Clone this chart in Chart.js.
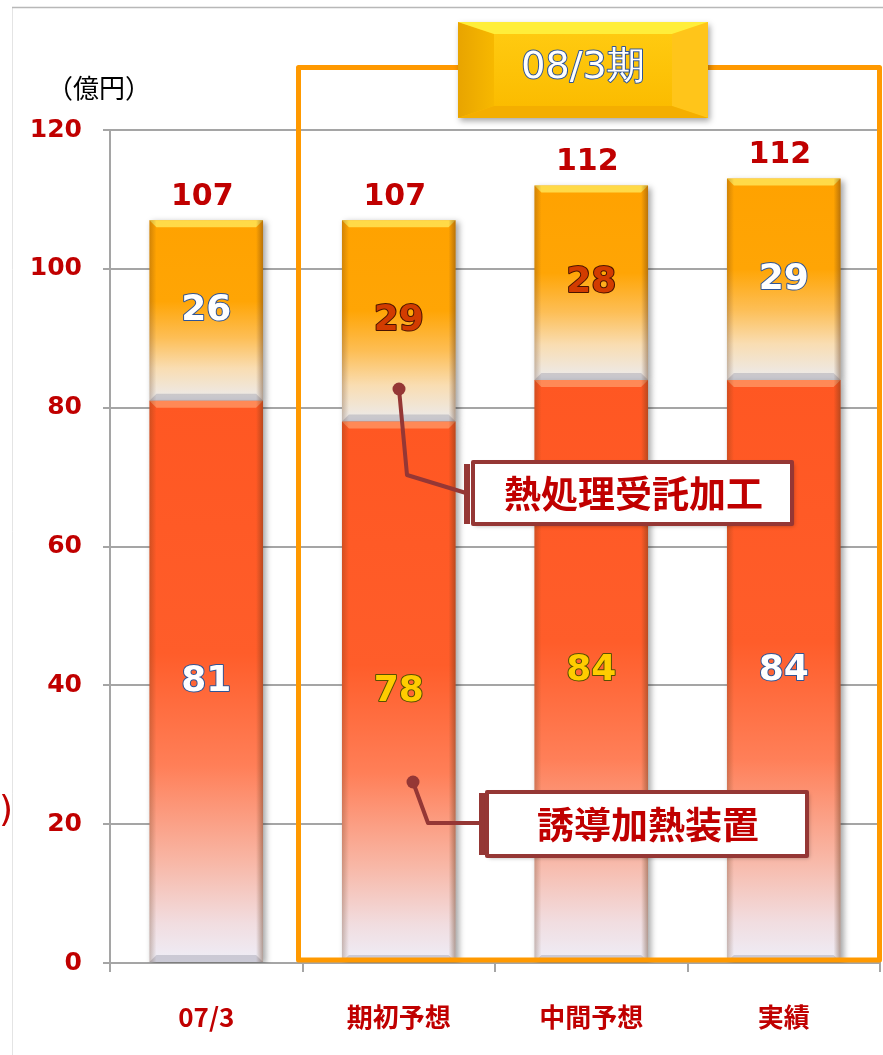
<!DOCTYPE html>
<html>
<head>
<meta charset="utf-8">
<script src="https://cdn.jsdelivr.net/npm/chart.js@4.4.1/dist/chart.umd.min.js"></script>
<style>
  html, body { margin: 0; padding: 0; background: #fff; }
  canvas { display: block; }
</style>
</head>
<body>
<canvas id="myChart" width="883" height="1055"></canvas>
<script>
// data (億円)
const categories = ['07/3', '期初予想', '中間予想', '実績'];
const inductionValues = [81, 78, 84, 84];   // 誘導加熱装置
const treatmentValues = [26, 29, 28, 29];   // 熱処理受託加工
const totalLabels = [107, 107, 112, 112];
const yTicks = [0, 20, 40, 60, 80, 100, 120];

// label colours inside the bars
const treatmentLabelColors = [['#FFFFFF', '#2F5597'], ['#D23C00', '#4A1400'], ['#D23C00', '#4A1400'], ['#FFFFFF', '#2F5597']];
const inductionLabelColors = [['#FFFFFF', '#2F5597'], ['#FFCC00', '#5A5000'], ['#FFCC00', '#5A5000'], ['#FFFFFF', '#2F5597']];

const DARK_RED = '#C00000';
const CALLOUT = '#953735';
const GRID = '#A5A5A5';

function segmentGradient(context, stops) {
    const chart = context.chart;
    const y = chart.scales.y;
    const i = context.dataIndex;
    if (!y || i === undefined) return stops[0][1];
    let lo, hi;
    if (context.datasetIndex === 0) {
        lo = 0; hi = inductionValues[i];
    } else {
        lo = inductionValues[i]; hi = lo + treatmentValues[i];
    }
    const top = y.getPixelForValue(hi);
    const bot = y.getPixelForValue(lo);
    if (!isFinite(top) || !isFinite(bot)) return stops[0][1];
    const g = chart.ctx.createLinearGradient(0, top, 0, bot);
    stops.forEach(([p, c]) => g.addColorStop(p, c));
    return g;
}

const inductionStops = [[0, '#FF5722'], [0.45, '#FF5D2A'], [0.65, '#FF7F58'], [0.82, '#F8B7A6'], [0.93, '#F1DDE0'], [1, '#EEEEF8']];
const treatmentStops = [[0, '#FFA200'], [0.45, '#FFA505'], [0.65, '#FDBE55'], [0.82, '#F9DDB2'], [1, '#EBEBEE']];

function drawBevel(ctx, l, t, w, h, di) {
    const b = 7;
    ctx.save();
    ctx.fillStyle = di === 1 ? 'rgba(255,232,90,0.8)' : 'rgba(255,150,100,0.8)';
    ctx.beginPath();
    ctx.moveTo(l, t); ctx.lineTo(l + w, t); ctx.lineTo(l + w - b, t + b); ctx.lineTo(l + b, t + b);
    ctx.closePath(); ctx.fill();
    ctx.fillStyle = 'rgba(150,150,165,0.4)';
    ctx.beginPath();
    ctx.moveTo(l, t + h); ctx.lineTo(l + w, t + h); ctx.lineTo(l + w - b, t + h - b); ctx.lineTo(l + b, t + h - b);
    ctx.closePath(); ctx.fill();
    let g = ctx.createLinearGradient(l, 0, l + b, 0);
    g.addColorStop(0, 'rgba(90,50,20,0.28)'); g.addColorStop(1, 'rgba(90,50,20,0)');
    ctx.fillStyle = g; ctx.fillRect(l, t, b, h);
    g = ctx.createLinearGradient(l + w - b, 0, l + w, 0);
    g.addColorStop(0, 'rgba(90,50,20,0)'); g.addColorStop(1, 'rgba(90,50,20,0.42)');
    ctx.fillStyle = g; ctx.fillRect(l + w - b, t, b, h);
    ctx.restore();
}

function callout(ctx, text, box, bar, path) {
    ctx.save();
    ctx.strokeStyle = CALLOUT; ctx.fillStyle = CALLOUT;
    ctx.lineWidth = 4; ctx.lineJoin = 'round'; ctx.lineCap = 'round';
    ctx.beginPath();
    ctx.moveTo(path[0][0], path[0][1]);
    path.slice(1).forEach(p => ctx.lineTo(p[0], p[1]));
    ctx.stroke();
    ctx.beginPath(); ctx.arc(path[0][0], path[0][1], 6.5, 0, Math.PI * 2); ctx.fill();
    ctx.fillRect(bar[0], bar[1], bar[2], bar[3]);
    ctx.shadowColor = 'rgba(0,0,0,0.3)'; ctx.shadowBlur = 4; ctx.shadowOffsetX = 2; ctx.shadowOffsetY = 2;
    ctx.fillStyle = '#FFFFFF';
    ctx.fillRect(box[0], box[1], box[2], box[3]);
    ctx.shadowColor = 'transparent';
    ctx.strokeRect(box[0], box[1], box[2], box[3]);
    ctx.fillStyle = DARK_RED;
    ctx.font = 'bold 37px "Noto Sans CJK JP"';
    ctx.textAlign = 'center'; ctx.textBaseline = 'middle';
    ctx.fillText(text, box[0] + box[2] / 2 + 1, box[1] + box[3] / 2 + 1);
    ctx.restore();
}

const decorPlugin = {
    id: 'decor',
    beforeDraw(chart) {
        const ctx = chart.ctx;
        ctx.save();
        ctx.fillStyle = '#FFFFFF';
        ctx.fillRect(0, 0, chart.width, chart.height);
        ctx.strokeStyle = '#E4E4E4'; ctx.lineWidth = 1;
        ctx.beginPath(); ctx.moveTo(12.5, chart.height); ctx.lineTo(12.5, 7.5); ctx.stroke();
        ctx.strokeStyle = '#B8B8B8'; ctx.lineWidth = 1.5;
        ctx.beginPath(); ctx.moveTo(12, 7.5); ctx.lineTo(chart.width, 7.5); ctx.stroke();
        ctx.restore();
    },
    beforeDatasetsDraw(chart) {
        const ctx = chart.ctx;
        ctx.save();
        ctx.shadowColor = 'rgba(0,0,0,0.35)';
        ctx.shadowBlur = 6; ctx.shadowOffsetX = 3; ctx.shadowOffsetY = 2;
    },
    afterDatasetsDraw(chart) {
        const ctx = chart.ctx;
        ctx.restore();
        chart.data.datasets.forEach((ds, di) => {
            chart.getDatasetMeta(di).data.forEach((bar, i) => {
                const p = bar.getProps(['x', 'y', 'base', 'width'], true);
                drawBevel(ctx, p.x - p.width / 2, p.y, p.width, p.base - p.y, di);
                const colors = di === 0 ? inductionLabelColors[i] : treatmentLabelColors[i];
                const value = di === 0 ? inductionValues[i] : treatmentValues[i];
                ctx.save();
                ctx.font = 'bold 36px "DejaVu Sans"';
                ctx.textAlign = 'center'; ctx.textBaseline = 'middle';
                ctx.lineJoin = 'round'; ctx.lineWidth = 2;
                ctx.strokeStyle = colors[1]; ctx.fillStyle = colors[0];
                const cy = (p.y + p.base) / 2;
                ctx.strokeText(String(value), p.x, cy);
                ctx.fillText(String(value), p.x, cy);
                ctx.restore();
            });
        });
        // totals above the bars
        const topMeta = chart.getDatasetMeta(1);
        ctx.save();
        ctx.font = 'bold 30px "DejaVu Sans"';
        ctx.fillStyle = DARK_RED;
        ctx.textAlign = 'center'; ctx.textBaseline = 'middle';
        topMeta.data.forEach((bar, i) => {
            ctx.fillText(String(totalLabels[i]), bar.x - 4, bar.y - 23);
        });
        ctx.restore();
    },
    afterDraw(chart) {
        const ctx = chart.ctx;
        const x = chart.scales.x;
        const area = chart.chartArea;
        // 08/3期 frame
        const left = (x.getPixelForValue(0) + x.getPixelForValue(1)) / 2 - 4;
        ctx.save();
        ctx.strokeStyle = '#FF9900'; ctx.lineWidth = 5; ctx.lineJoin = 'round';
        ctx.strokeRect(left, 67.5, area.right - 0.5 - left, 960 - 67.5);
        ctx.restore();

        // header box
        const hx = 458, hy = 22, hw = 250, hh = 96, bx = 36, by = 12;
        ctx.save();
        ctx.shadowColor = 'rgba(0,0,0,0.35)'; ctx.shadowBlur = 6; ctx.shadowOffsetX = 2; ctx.shadowOffsetY = 3;
        ctx.fillStyle = '#FFC000';
        ctx.fillRect(hx, hy, hw, hh);
        ctx.shadowColor = 'transparent';
        const poly = (pts, fill) => {
            ctx.fillStyle = fill;
            ctx.beginPath(); ctx.moveTo(pts[0][0], pts[0][1]);
            pts.slice(1).forEach(q => ctx.lineTo(q[0], q[1]));
            ctx.closePath(); ctx.fill();
        };
        let lg = ctx.createLinearGradient(hx, 0, hx + bx, 0);
        lg.addColorStop(0, '#E8A400'); lg.addColorStop(1, '#F7B800');
        poly([[hx, hy], [hx + bx, hy + by], [hx + bx, hy + hh - by], [hx, hy + hh]], lg);
        poly([[hx + hw, hy], [hx + hw - bx, hy + by], [hx + hw - bx, hy + hh - by], [hx + hw, hy + hh]], '#FFC51A');
        poly([[hx, hy], [hx + hw, hy], [hx + hw - bx, hy + by], [hx + bx, hy + by]], '#FFEE3A');
        poly([[hx, hy + hh], [hx + hw, hy + hh], [hx + hw - bx, hy + hh - by], [hx + bx, hy + hh - by]], '#F4AE00');
        let cg = ctx.createLinearGradient(0, hy + by, 0, hy + hh - by);
        cg.addColorStop(0, '#FFCA10'); cg.addColorStop(1, '#FBBC00');
        ctx.fillStyle = cg;
        ctx.fillRect(hx + bx, hy + by, hw - 2 * bx, hh - 2 * by);
        ctx.font = '38px "DejaVu Sans"';
        ctx.textAlign = 'center'; ctx.textBaseline = 'middle';
        ctx.lineJoin = 'round'; ctx.lineWidth = 2;
        ctx.strokeStyle = '#2F5597'; ctx.fillStyle = '#FFFFFF';
        ctx.strokeText('08/3期', hx + hw / 2, hy + hh / 2 - 2);
        ctx.fillText('08/3期', hx + hw / 2, hy + hh / 2 - 2);
        ctx.restore();

        // unit label and stray bracket
        ctx.save();
        ctx.font = '26px "Noto Sans CJK JP"';
        ctx.fillStyle = '#000000';
        ctx.textAlign = 'center'; ctx.textBaseline = 'middle';
        ctx.fillText('（億円）', 99, 88);
        ctx.font = '36px "DejaVu Sans"';
        ctx.fillStyle = DARK_RED;
        ctx.textAlign = 'left';
        ctx.fillText(')', -1, 812);
        ctx.restore();

        // callouts
        callout(ctx, '熱処理受託加工', [473, 462, 319, 62], [464, 464, 6, 60], [[399, 389], [407, 475], [466, 493]]);
        callout(ctx, '誘導加熱装置', [487, 792, 320, 64], [479, 793, 6, 62], [[413, 782], [428, 823], [481, 823]]);
    }
};

const ctx = document.getElementById('myChart');
const myChart = new Chart(ctx, {
    type: 'bar',
    data: {
        labels: categories,
        datasets: [
            {
                label: '誘導加熱装置',
                data: inductionValues,
                backgroundColor: (c) => segmentGradient(c, inductionStops),
                borderWidth: 0
            },
            {
                label: '熱処理受託加工',
                data: treatmentValues,
                backgroundColor: (c) => segmentGradient(c, treatmentStops),
                borderWidth: 0
            }
        ]
    },
    options: {
        responsive: false,
        animation: false,
        devicePixelRatio: 1,
        layout: { padding: { top: 130, right: 3, left: 0, bottom: 0 } },
        datasets: { bar: { barPercentage: 1, categoryPercentage: 0.59 } },
        plugins: { legend: { display: false }, tooltip: { enabled: false } },
        scales: {
            x: {
                stacked: true,
                afterFit: (scale) => { scale.height = 92; },
                grid: { offset: true, drawOnChartArea: false, drawTicks: true, tickLength: 9, color: GRID, lineWidth: 2 },
                border: { color: GRID, width: 2 },
                ticks: {
                    color: DARK_RED,
                    padding: 30,
                    font: { family: '"Noto Sans CJK JP"', weight: 'bold', size: 26 }
                }
            },
            y: {
                stacked: true,
                min: yTicks[0],
                max: yTicks[yTicks.length - 1],
                afterFit: (scale) => { scale.width = 110; },
                grid: { color: GRID, lineWidth: 2, tickLength: 7 },
                border: { color: GRID, width: 2 },
                ticks: {
                    stepSize: yTicks[1] - yTicks[0],
                    color: DARK_RED,
                    padding: 21,
                    font: { family: '"DejaVu Sans"', weight: 'bold', size: 25 }
                }
            }
        }
    },
    plugins: [decorPlugin]
});
</script>
</body>
</html>
